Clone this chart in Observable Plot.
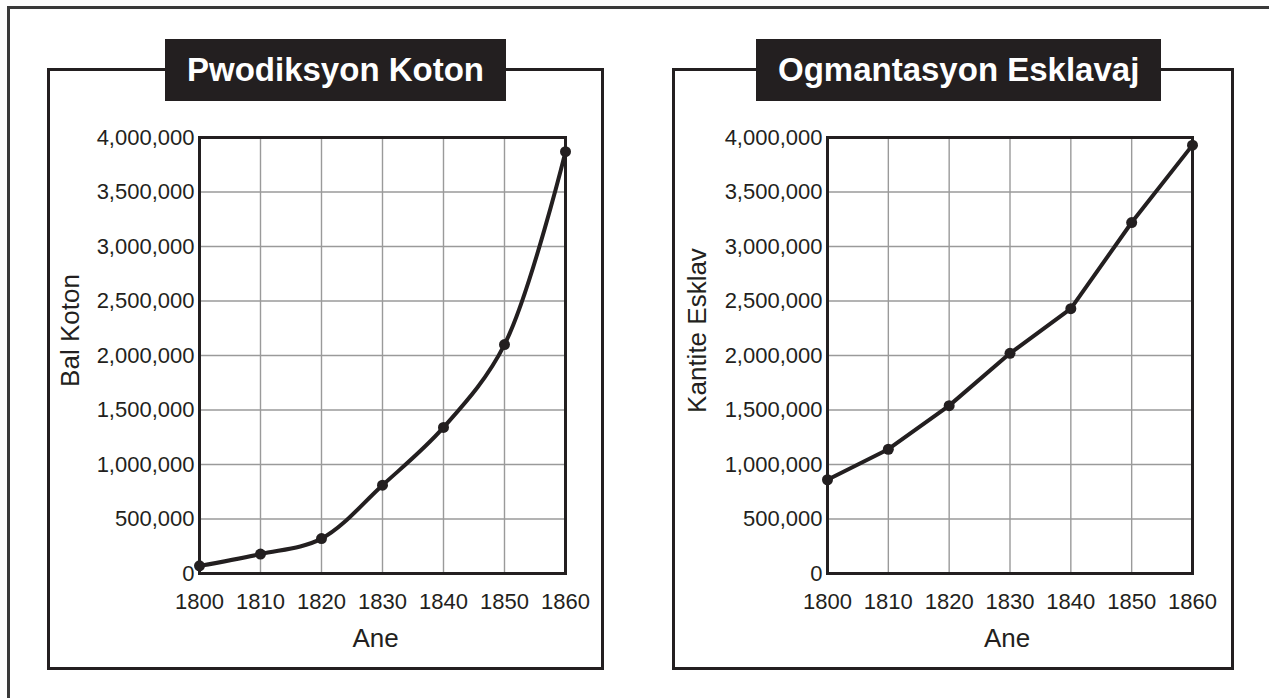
<!DOCTYPE html>
<html>
<head>
<meta charset="utf-8">
<script src="https://cdn.jsdelivr.net/npm/d3@7"></script>
<script src="https://cdn.jsdelivr.net/npm/@observablehq/plot@0.6"></script>
<style>
  html, body { margin: 0; padding: 0; background: #fff; overflow: hidden; }
  body { width: 1269px; height: 698px; position: relative; font-family: "Liberation Sans", Arial, sans-serif; color: #231f20; }
  .outer { position: absolute; left: 7px; top: 6px; width: 1400px; height: 900px; border: 3px solid #3a3a3a; box-sizing: border-box; }
  .panel { position: absolute; top: 68px; height: 602px; border: 3px solid #231f20; box-sizing: border-box; background: #fff; }
  .title { position: absolute; top: 39px; height: 62px; line-height: 62px; background: #231f20; color: #fff; font-weight: bold; font-size: 33px; padding: 0 22px; white-space: nowrap; box-sizing: border-box; }
  .chart { position: absolute; top: 72px; }
</style>
</head>
<body>
<div class="outer"></div>
<div class="panel" style="left:47px; width:557px;"></div>
<div class="panel" style="left:672px; width:562px;"></div>
<div class="title" id="t1" style="left:165px;"></div>
<div class="title" id="t2" style="left:756px;"></div>
<div class="chart" id="c1" style="left:52px;"></div>
<div class="chart" id="c2" style="left:676px;"></div>
<script>
// ---- data ----
const years = [1800, 1810, 1820, 1830, 1840, 1850, 1860];
const cottonBales = [70000, 178000, 320000, 810000, 1340000, 2100000, 3870000];
const enslavedPeople = [860000, 1140000, 1540000, 2020000, 2430000, 3220000, 3930000];
const yTicks = [0, 500000, 1000000, 1500000, 2000000, 2500000, 3000000, 3500000, 4000000];
const titles = ["Pwodiksyon Koton", "Ogmantasyon Esklavaj"];
const yLabels = ["Bal Koton", "Kantite Esklav"];
const xLabel = "Ane";

const ink = "#231f20";
const gridColor = "#9a9a9a";

function makeChart(values, yLabel, opts) {
  const data = years.map((year, i) => ({year, value: values[i]}));
  return Plot.plot({
    width: opts.width,
    height: 594,
    marginLeft: opts.marginLeft,
    marginRight: opts.marginRight,
    marginTop: 65,
    marginBottom: 93,
    style: {fontFamily: '"Liberation Sans", Arial, sans-serif', fontSize: "22px", color: ink, background: "none", overflow: "visible"},
    x: {domain: [1800, 1860], label: null},
    y: {domain: [0, 4000000], label: null},
    marks: [
      Plot.gridX(years.slice(1, -1), {stroke: gridColor, strokeOpacity: 1, strokeWidth: 1.4}),
      Plot.gridY(yTicks.slice(1, -1), {stroke: gridColor, strokeOpacity: 1, strokeWidth: 1.4}),
      Plot.axisX(years, {tickSize: 0, tickPadding: 20, tickFormat: d3.format("d"), fontSize: 22, fill: ink, label: null}),
      Plot.axisY(yTicks, {tickSize: 0, tickPadding: 5, tickFormat: d3.format(","), fontSize: 22, fill: ink, label: null}),
      Plot.frame({stroke: ink, strokeWidth: 3}),
      Plot.line(data, {x: "year", y: "value", curve: opts.curve, stroke: ink, strokeWidth: 4}),
      Plot.dot(data, {x: "year", y: "value", r: 5.5, fill: ink, stroke: "none"}),
      Plot.text([xLabel], {text: d => d, frameAnchor: "bottom", dy: 55, dx: opts.xLabelDx, lineAnchor: "top", fontSize: 26, fill: ink}),
      Plot.text([yLabel], {text: d => d, frameAnchor: "left", rotate: -90, dx: opts.yLabelDx, dy: -25, textAnchor: "middle", lineAnchor: "middle", fontSize: 26, fill: ink})
    ]
  });
}

document.getElementById("t1").textContent = titles[0];
document.getElementById("t2").textContent = titles[1];
document.getElementById("c1").append(makeChart(cottonBales, yLabels[0], {width: 548, marginLeft: 147, marginRight: 35, curve: "catmull-rom", xLabelDx: -7, yLabelDx: -129}));
document.getElementById("c2").append(makeChart(enslavedPeople, yLabels[1], {width: 554, marginLeft: 151, marginRight: 38, curve: "linear", xLabelDx: -3, yLabelDx: -130}));
</script>
</body>
</html>
